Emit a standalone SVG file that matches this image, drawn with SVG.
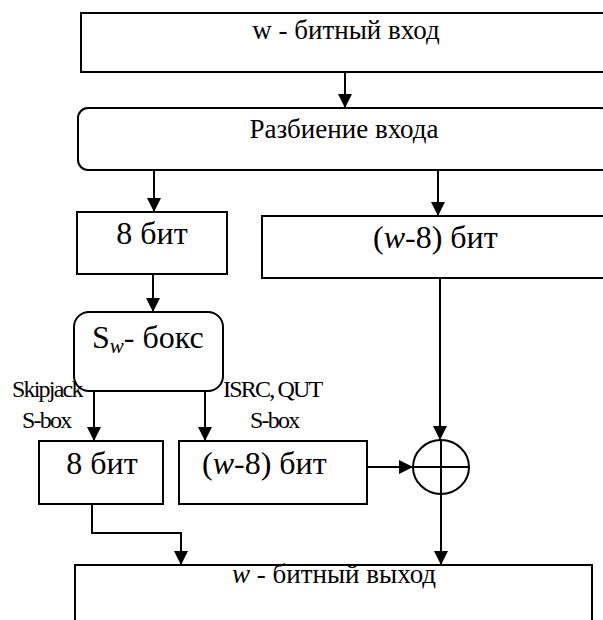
<svg xmlns="http://www.w3.org/2000/svg" width="603" height="620" viewBox="0 0 603 620">
<style>
.box{fill:#fff;stroke:#000;stroke-width:2}
.ln{fill:none;stroke:#000;stroke-width:2}
.t{font-family:"Liberation Serif","Times New Roman",serif;fill:#000}
.m{font-size:27px}
.b{font-size:32px}
.lb{font-size:24px;letter-spacing:-1.8px}
.i{font-style:italic}
</style>
<defs>
<marker id="ah" viewBox="0 0 14 14" refX="14" refY="7" markerWidth="14" markerHeight="14" markerUnits="userSpaceOnUse" orient="auto">
<path d="M0,0 L14,7 L0,14 z" fill="#000"/>
</marker>
</defs>
<rect x="0" y="0" width="603" height="620" fill="#fff"/>
<g id="connectors">
<path class="ln" d="M345,73 V108" marker-end="url(#ah)"/>
<path class="ln" d="M154,170 V212" marker-end="url(#ah)"/>
<path class="ln" d="M438,170 V216" marker-end="url(#ah)"/>
<path class="ln" d="M153,274 V312" marker-end="url(#ah)"/>
<path class="ln" d="M94,391 V441" marker-end="url(#ah)"/>
<path class="ln" d="M205,391 V441" marker-end="url(#ah)"/>
<path class="ln" d="M440,278 V440" marker-end="url(#ah)"/>
<path class="ln" d="M367,467 H413" marker-end="url(#ah)"/>
<path class="ln" d="M441,494 V565" marker-end="url(#ah)"/>
<path class="ln" d="M92,504 V533 H181 V565" marker-end="url(#ah)"/>
</g>
<g id="input">
<rect class="box" x="81" y="13" width="530" height="59"/>
<text class="t m" x="346" y="39" text-anchor="middle">w - битный вход</text>
</g>
<g id="split">
<rect class="box" x="78" y="108" width="533" height="62" rx="10"/>
<text class="t m" x="344" y="138" text-anchor="middle">Разбиение входа</text>
</g>
<g id="bits8">
<rect class="box" x="77" y="212" width="150" height="62"/>
<text class="t b" x="152" y="244" text-anchor="middle">8 бит</text>
</g>
<g id="bitsw8">
<rect class="box" x="262" y="216" width="350" height="62"/>
<text class="t b" x="373" y="248">(<tspan class="i">w</tspan>-8) бит</text>
</g>
<g id="sbox">
<rect class="box" x="74" y="312" width="149" height="79" rx="15"/>
<text class="t b" x="92" y="348">S<tspan class="i" font-size="21" dy="5">w</tspan><tspan dy="-5">- бокс</tspan></text>
</g>
<g id="labels">
<text class="t lb" x="12" y="397">Skipjack</text>
<text class="t lb" x="22" y="428">S-box</text>
<text class="t lb" x="223" y="397">ISRC, QUT</text>
<text class="t lb" x="250" y="428">S-box</text>
</g>
<g id="out8">
<rect class="box" x="39" y="441" width="124" height="63"/>
<text class="t b" x="102" y="474" text-anchor="middle">8 бит</text>
</g>
<g id="outw8">
<rect class="box" x="179" y="441" width="188" height="63"/>
<text class="t b" x="202" y="474">(<tspan class="i">w</tspan>-8) бит</text>
</g>
<g id="xor">
<ellipse class="ln" cx="441" cy="467" rx="28" ry="27"/>
<path class="ln" d="M413,467 H469 M441,440 V494"/>
</g>
<g id="output">
<rect class="box" x="75" y="565" width="517" height="70"/>
<text class="t m" x="232" y="583"><tspan class="i">w</tspan> - битный выход</text>
</g>
</svg>
